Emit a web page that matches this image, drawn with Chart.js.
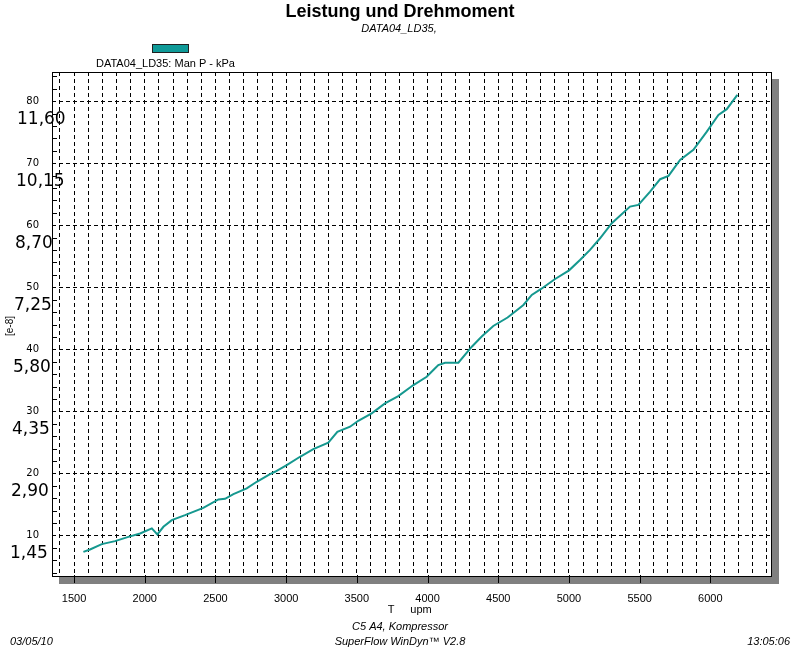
<!DOCTYPE html>
<html><head><meta charset="utf-8">
<script src="https://cdn.jsdelivr.net/npm/chart.js@4"></script>
<style>html,body{margin:0;padding:0;background:#fff}</style>
</head><body>
<canvas id="c" width="800" height="650"></canvas>
<script>
// ---- data ----
const rpm = [1566,1613,1696,1790,1884,1967,2050,2089,2132,2191,2285,2414,2521,2568,2627,2721,2792,2886,2921,3004,3098,3192,3298,3362,3452,3510,3605,3699,3793,3900,3994,4041,4076,4124,4218,4313,4383,4465,4566,4678,4737,4803,4902,5001,5078,5149,5220,5303,5432,5491,5574,5645,5704,5786,5880,5975,6057,6116,6191];
const manP = [7.35,7.74,8.6,9.08,9.77,10.32,11.13,10.16,11.39,12.47,13.27,14.45,15.81,15.9,16.66,17.58,18.65,19.89,20.26,21.34,22.68,23.92,24.94,26.71,27.52,28.48,29.68,31.29,32.47,34.24,35.58,36.66,37.47,37.84,37.84,40.42,42.06,43.76,45.13,47.15,48.76,49.73,51.34,52.73,54.4,56.02,57.9,60.32,63.0,63.27,65.42,67.42,67.95,70.53,72.15,75.1,77.79,78.71,81.0];
const yTickValues = [10,20,30,40,50,60,70,80];
const yMinorValues = [4,6,8,12,14,16,18,22,24,26,28,32,34,36,38,42,44,46,48,52,54,56,58,62,64,66,68,72,74,76,78,82,84];
const secondaryLabels = ['1,45','2,90','4,35','5,80','7,25','8,70','10,15','11,60'];
const xGridValues = [];
for (let v = 1400; v <= 6400; v += 100) xGridValues.push(v);
const xLabelValues = [1500,2000,2500,3000,3500,4000,4500,5000,5500,6000];

const titleText = 'Leistung und Drehmoment';
const subtitleText = 'DATA04_LD35,';
const seriesName = 'DATA04_LD35: Man P - kPa';
const yAxisTitle = '[e-8]';
const xAxisTitleA = 'T';
const xAxisTitleB = 'upm';
const footer1 = 'C5 A4, Kompressor';
const footer2 = 'SuperFlow WinDyn\u2122 V2.8';
const footerDate = '03/05/10';
const footerTime = '13:05:06';

const lineColor = '#15988f';
const SANS = '"Liberation Sans", Arial, sans-serif';

const decor = {
  id: 'decor',
  beforeDraw(chart) {
    const {ctx, chartArea: a} = chart;
    ctx.save();
    ctx.fillStyle = '#ffffff';
    ctx.fillRect(0, 0, chart.width, chart.height);
    ctx.fillStyle = '#808080';
    ctx.fillRect(a.left + 7, a.top + 7, a.right - a.left, a.bottom - a.top);
    ctx.fillStyle = '#ffffff';
    ctx.fillRect(a.left, a.top, a.right - a.left, a.bottom - a.top);
    ctx.restore();
  },
  afterDraw(chart) {
    const {ctx, chartArea: a} = chart;
    const xs = chart.scales.x, ys = chart.scales.y;
    ctx.save();
    ctx.strokeStyle = '#000';
    ctx.lineWidth = 1;
    ctx.strokeRect(Math.round(a.left) + 0.5, Math.round(a.top) + 0.5, Math.round(a.right - a.left) - 1, Math.round(a.bottom - a.top) - 1);
    // minor y ticks
    ctx.beginPath();
    yMinorValues.forEach(v => {
      const y = Math.round(ys.getPixelForValue(v)) + 0.5;
      ctx.moveTo(a.left, y); ctx.lineTo(a.left + 5, y);
    });
    // major x ticks below the axis
    xLabelValues.forEach(v => {
      const x = Math.round(xs.getPixelForValue(v)) + 0.5;
      ctx.moveTo(x, a.bottom - 2); ctx.lineTo(x, a.bottom + 6);
    });
    ctx.stroke();

    // secondary big labels
    ctx.fillStyle = '#000';
    ctx.font = '17px "DejaVu Sans", sans-serif';
    ctx.textAlign = 'left';
    ctx.textBaseline = 'middle';
    yTickValues.forEach((v, i) => {
      const y = ys.getPixelForValue(v) + 18.5;
      ctx.fillText(secondaryLabels[i], 10 + 0.1 * (v - 10), y);
    });

    // title & subtitle
    ctx.textAlign = 'center';
    ctx.font = 'bold 18px ' + SANS;
    ctx.fillText(titleText, 400, 12);
    ctx.font = 'italic 11px ' + SANS;
    ctx.fillText(subtitleText, 399, 29);

    // legend
    ctx.fillStyle = '#0f9a98';
    ctx.fillRect(152, 44, 37, 9);
    ctx.strokeStyle = '#202020';
    ctx.strokeRect(152.5, 44.5, 36, 8);
    ctx.fillStyle = '#000';
    ctx.font = '11px ' + SANS;
    ctx.textAlign = 'left';
    ctx.fillText(seriesName, 96, 64);

    // y axis title
    ctx.save();
    ctx.translate(10, 326);
    ctx.rotate(-Math.PI / 2);
    ctx.textAlign = 'center';
    ctx.font = '10px ' + SANS;
    ctx.fillText(yAxisTitle, 0, 0);
    ctx.restore();

    // x axis title
    ctx.font = '11px ' + SANS;
    ctx.textAlign = 'center';
    ctx.fillText(xAxisTitleA, 391, 610);
    ctx.fillText(xAxisTitleB, 421, 610);

    // footers
    ctx.font = 'italic 11px ' + SANS;
    ctx.fillText(footer1, 400, 627);
    ctx.fillText(footer2, 400, 642);
    ctx.textAlign = 'left';
    ctx.fillText(footerDate, 10, 642);
    ctx.textAlign = 'right';
    ctx.fillText(footerTime, 790, 642);
    ctx.restore();
  }
};

new Chart(document.getElementById('c'), {
  type: 'line',
  data: {
    datasets: [{
      label: seriesName,
      data: rpm.map((r, i) => ({x: r, y: manP[i]})),
      borderColor: lineColor,
      borderWidth: 2,
      pointRadius: 0,
      tension: 0,
      fill: false
    }]
  },
  options: {
    responsive: false,
    animation: false,
    devicePixelRatio: 1,
    layout: {padding: {top: 72, right: 28, left: 0, bottom: 0}},
    plugins: {legend: {display: false}, title: {display: false}, tooltip: {enabled: false}},
    scales: {
      x: {
        type: 'linear',
        min: 1344, max: 6436,
        afterFit(s) { s.height = 73; },
        afterBuildTicks(s) { s.ticks = xGridValues.map(v => ({value: v})); },
        grid: {color: '#000', lineWidth: 1, drawTicks: false},
        border: {display: false, dash: [4, 3]},
        ticks: {
          color: '#000', font: {family: SANS, size: 11}, padding: 15,
          maxRotation: 0, autoSkip: false,
          callback: v => xLabelValues.includes(v) ? String(v) : ''
        }
      },
      y: {
        type: 'linear',
        min: 3.3, max: 84.7,
        afterFit(s) { s.width = 52; },
        afterBuildTicks(s) { s.ticks = yTickValues.map(v => ({value: v})); },
        grid: {color: '#000', lineWidth: 1, drawTicks: false},
        border: {display: false, dash: [4, 3]},
        ticks: {
          color: '#000', font: {family: '"DejaVu Sans", sans-serif', size: 10}, padding: 13,
          labelOffset: 0, autoSkip: false,
          callback: v => String(v)
        }
      }
    }
  },
  plugins: [decor]
});
</script>
</body></html>
